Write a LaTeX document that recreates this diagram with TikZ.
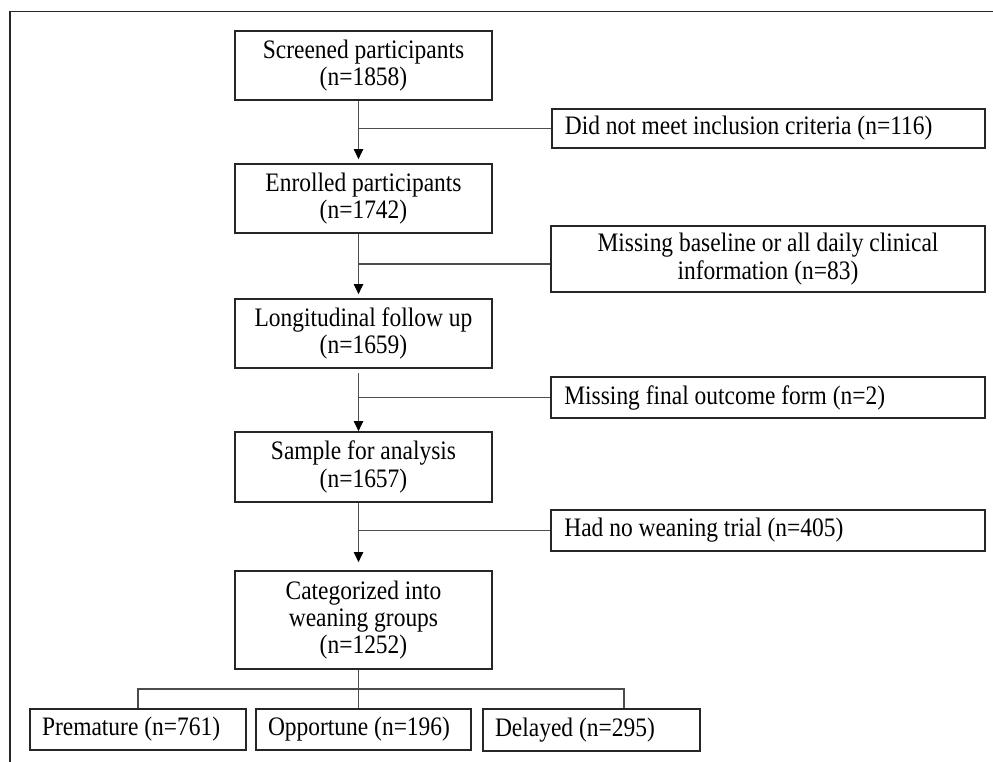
\documentclass[tikz,border=0pt]{standalone}
\usepackage{fontspec}
\setmainfont{Liberation Serif}[FakeStretch=0.88]
\usetikzlibrary{arrows.meta}
\begin{document}
\begin{tikzpicture}[x=0.75pt,y=-0.75pt,
  every node/.style={font=\fontsize{20}{20.5}\selectfont},
  mainbox/.style={draw=black!85,line width=1.3pt,minimum width=192.75pt,minimum height=51.75pt,inner sep=0pt,align=center},
  sidebox/.style={draw=black!85,line width=1.3pt,minimum width=325pt,minimum height=30.75pt,inner xsep=9.75pt,inner ysep=0pt},
  leafbox/.style={draw=black!85,line width=1.3pt,minimum width=162pt,minimum height=30.75pt,inner xsep=9pt,inner ysep=0pt},
  conn/.style={draw=black!70,line width=0.8pt},
  arr/.style={conn,-{Triangle[length=7.5pt,width=7pt,fill=black,color=black]}},
  frameline/.style={draw=black!85,line width=1pt}
]
\useasboundingbox (0,0) rectangle (993,762);
% frame
\coordinate (ftl) at (10,11.5);
\coordinate (ftr) at (993,11.5);
\coordinate (fbl) at (10,762);
\draw[frameline] (ftr) -- (ftl) -- (fbl);

% spine
\coordinate (spine) at (358.5,0);

% main boxes
\node[mainbox] (b1) at (363.5,65.5) {Screened participants\\(n=1858)};
\node[mainbox] (b2) at (363.5,198.5) {Enrolled participants\\(n=1742)};
\node[mainbox] (b3) at (363.5,333.5) {Longitudinal follow up\\(n=1659)};
\node[mainbox,minimum height=52.5pt] (b4) at (363.5,467) {Sample for analysis\\(n=1657)};
\node[mainbox,minimum height=73.5pt] (b5) at (363.5,620) {Categorized into\\weaning groups\\(n=1252)};

% side boxes
\node[sidebox,minimum height=29.25pt] (s1) at (768.5,128.5) {\makebox[305.5pt][l]{Did not meet inclusion criteria (n=116)}};
\node[sidebox,minimum height=49.5pt,align=center] (s2) at (768,259) {Missing baseline or all daily clinical\\information (n=83)};
\node[sidebox] (s3) at (768,397.5) {\makebox[305.5pt][l]{Missing final outcome form (n=2)}};
\node[sidebox] (s4) at (768,530.5) {\makebox[305.5pt][l]{Had no weaning trial (n=405)}};

% leaves
\node[leafbox] (p) at (138,729.5) {\makebox[144pt][l]{Premature (n=761)}};
\node[leafbox,minimum width=161.25pt] (o) at (363.5,729.5) {\makebox[143.25pt][l]{Opportune (n=196)}};
\node[leafbox,minimum width=162.75pt,minimum height=31.5pt] (d) at (591.5,730) {\makebox[144.75pt][l]{Delayed (n=295)}};

% vertical arrows
\draw[arr,shorten >=3pt] (b1.south -| spine) -- (b2.north -| spine);
\draw[arr,shorten >=3pt] (b2.south -| spine) -- (b3.north -| spine);
\draw[arr,shorten <=3pt] (b3.south -| spine) -- (b4.north -| spine);
\draw[arr,shorten >=6pt] (b4.south -| spine) -- (b5.north -| spine);

% side connectors
\draw[conn] (spine |- s1.west) -- (s1.west);
\draw[conn] ([yshift=-3.75pt]s2.west -| spine) -- ([yshift=-3.75pt]s2.west);
\draw[conn] (spine |- s3.west) -- (s3.west);
\draw[conn] (spine |- s4.west) -- (s4.west);

% branching
\coordinate (br) at (0,689);
\coordinate (dx) at (624,0);
\draw[conn] (b5.south -| spine) -- (o.north -| spine);
\draw[conn] (p.north) -- (p.north |- br) -- (dx |- br) -- (dx |- d.north);
\end{tikzpicture}
\end{document}
